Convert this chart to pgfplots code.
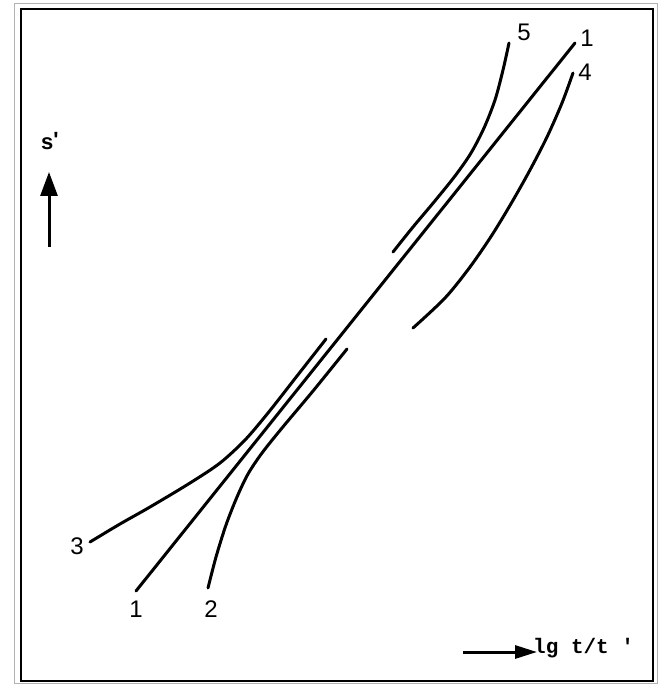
\documentclass[border=0pt]{standalone}
\usepackage{pgfplots}
\pgfplotsset{compat=1.18}
\usetikzlibrary{arrows.meta}
\usepackage{fontspec}
\setmainfont{Liberation Sans}
\setmonofont{Liberation Mono}
\begin{document}
\begin{tikzpicture}
  \begin{axis}[
      scale only axis,
      width=661pt,
      height=684pt,
      xmin=0, xmax=661,
      ymin=0, ymax=684,
      y dir=reverse,
      axis lines=none,
      ticks=none,
      clip=false,
      cycle list={{black, no markers}},
      every axis plot post/.append style={black, line width=3pt, smooth, tension=0.5, no markers, line cap=round}
    ]
    % page area and frame
    \path (axis cs:0,0) rectangle (axis cs:661,684);
    \draw[gray!60, line width=0.8pt] (axis cs:14,3) rectangle (axis cs:657,683.5);
    \draw[black, line width=2.2pt] (axis cs:21,9) rectangle (axis cs:653,681);

    % curve 1 (straight)
    \addplot coordinates {(136,591) (575,43)};
    % curve 2
    \addplot coordinates {
        (347,349) (313,391) (282,428) (262,453) (248,474)
        (237,497) (226,525) (216,557) (208,588)};
    % curve 3
    \addplot coordinates {
        (326,339) (297,376) (268,413) (245,440) (220,463)
        (190,483) (150,507) (120,524) (90,542)};
    % curve 4
    \addplot coordinates {
        (573,73) (562,103) (547,137) (530,170) (512,202)
        (492,235) (470,267) (445,298) (413,328)};
    % curve 5
    \addplot coordinates {
        (509,43) (503,70) (495,100) (484,128) (471,153)
        (455,176) (434,202) (413,227) (393,252)};

    % curve labels
    \begin{scope}[every node/.style={font=\fontsize{24}{28}\selectfont, inner sep=0pt}]
      \node at (axis cs:524,32) {5};
      \node at (axis cs:587,38) {1};
      \node at (axis cs:585,72) {4};
      \node at (axis cs:77,546) {3};
      \node at (axis cs:136,609) {1};
      \node at (axis cs:211,609) {2};
    \end{scope}

    % axis arrows
    \draw[black, line width=3pt, -{Triangle[length=24pt, width=17pt]}]
      (axis cs:49,247) -- (axis cs:49,172);
    \node[anchor=base west, inner sep=0pt, font=\bfseries\fontsize{22}{26}\selectfont]
      at (axis cs:41,150) {s\raisebox{2pt}{\textquotesingle}};
    \draw[black, line width=3pt, -{Triangle[length=22pt, width=13pt]}]
      (axis cs:463,652) -- (axis cs:537,652);
    \node[anchor=base west, inner sep=0pt, font=\ttfamily\bfseries\fontsize{21}{24}\selectfont]
      at (axis cs:533,653) {lg t/t \textquotesingle};
  \end{axis}
\end{tikzpicture}
\end{document}
